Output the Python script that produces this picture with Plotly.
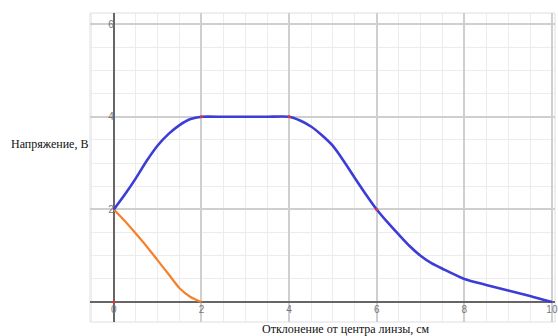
import plotly.graph_objects as go

# Data
blue_x = [0, 0.25, 0.5, 0.75, 1, 1.25, 1.5, 1.75, 2, 2.5, 3, 3.5, 4, 4.25, 4.5, 4.75, 5, 5.25, 5.5, 5.75, 6,
          6.25, 6.5, 6.75, 7, 7.25, 7.5, 8, 8.5, 9, 9.5, 10]
blue_y = [2, 2.32, 2.67, 3.05, 3.38, 3.63, 3.82, 3.95, 4, 4, 4, 4, 4, 3.92, 3.79, 3.6, 3.37, 3.04, 2.68, 2.33, 2.0,
          1.72, 1.46, 1.21, 1.0, 0.84, 0.72, 0.5, 0.37, 0.25, 0.13, 0]
orange_x = [0, 0.25, 0.5, 0.75, 1, 1.25, 1.5, 1.75, 2]
orange_y = [2, 1.75, 1.48, 1.2, 0.9, 0.6, 0.3, 0.11, 0]
red_x = [0, 2, 4, 6]
red_y = [0, 4, 4, 2]
x_ticks = [0, 2, 4, 6, 8, 10]
y_ticks = [2, 4, 6]
x_title = "Отклонение от центра линзы, см"
y_title = "Напряжение, В"

XR = [-0.545, 10.07]
YR = [-0.43, 6.24]

fig = go.Figure()
fig.add_trace(go.Scatter(x=orange_x, y=orange_y, mode="lines",
                         line=dict(color="#f7802a", width=2.2, shape="spline", smoothing=0.7),
                         hoverinfo="skip"))
fig.add_trace(go.Scatter(x=blue_x, y=blue_y, mode="lines",
                         line=dict(color="#3c3cd6", width=2.6, shape="spline", smoothing=0.7),
                         hoverinfo="skip"))
fig.add_trace(go.Scatter(x=red_x, y=red_y, mode="markers",
                         marker=dict(color="#e83030", size=3), hoverinfo="skip"))

xpos = (0 - YR[0]) / (YR[1] - YR[0])
ypos = (0 - XR[0]) / (XR[1] - XR[0])

fig.update_layout(
    width=558, height=336,
    margin=dict(l=90, r=0, t=13, b=14),
    paper_bgcolor="white", plot_bgcolor="white",
    showlegend=False,
    xaxis=dict(range=XR, anchor="free", position=xpos,
               tickvals=x_ticks, ticktext=[str(v) for v in x_ticks],
               tickfont=dict(family="Arial", size=10, color="#777"),
               ticklabeloverflow="allow",
               ticks="", showgrid=True, gridcolor="#cfcfcf", gridwidth=1.5,
               minor=dict(dtick=0.5, tick0=0, showgrid=True, gridcolor="#ececec", gridwidth=1),
               zeroline=True, zerolinecolor="#666", zerolinewidth=1.6,
               showline=False, fixedrange=True),
    yaxis=dict(range=YR, anchor="free", position=ypos,
               tickvals=y_ticks, ticktext=[str(v) for v in y_ticks],
               tickfont=dict(family="Arial", size=10, color="#777"),
               ticklabeloverflow="allow",
               ticks="", showgrid=True, gridcolor="#cfcfcf", gridwidth=1.5,
               minor=dict(dtick=0.5, tick0=0, showgrid=True, gridcolor="#ececec", gridwidth=1),
               zeroline=True, zerolinecolor="#666", zerolinewidth=1.6,
               showline=False, fixedrange=True),
    shapes=[dict(type="rect", xref="x domain", yref="y domain", x0=0, x1=1, y0=0, y1=1,
                 line=dict(color="#dcdce6", width=1), layer="below")],
    annotations=[
        dict(text=y_title, xref="paper", yref="paper", x=-0.0865, y=0.576,
             showarrow=False, xanchor="center", yanchor="middle",
             font=dict(family="Liberation Serif", size=12, color="#111")),
        dict(text=x_title, xref="paper", yref="paper", x=0.55, y=-0.022,
             showarrow=False, xanchor="center", yanchor="middle",
             font=dict(family="Liberation Serif", size=12, color="#111")),
    ],
)

fig.write_html("out.html")
